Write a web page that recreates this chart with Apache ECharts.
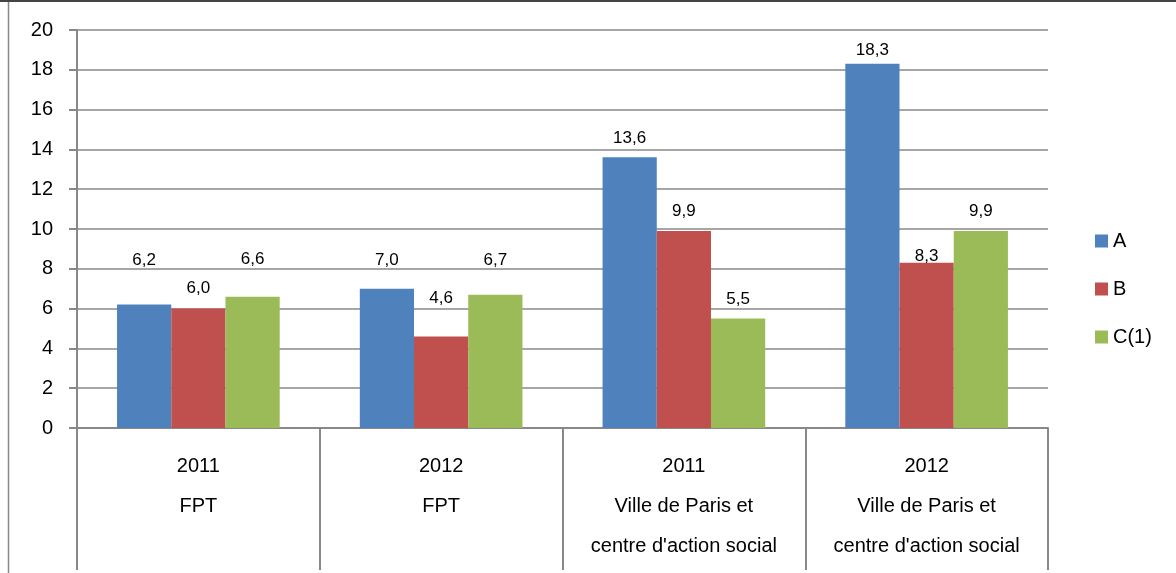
<!DOCTYPE html>
<html>
<head>
<meta charset="utf-8" />
<title>Chart</title>
<script src="https://cdn.jsdelivr.net/npm/echarts@6/dist/echarts.min.js"></script>
<style>
  html, body { margin: 0; padding: 0; background: #fff; }
  #main { width: 1176px; height: 573px; }
</style>
</head>
<body>
<div id="main"></div>
<script>
// categories (year + organisation)
var years = ['2011', '2012', '2011', '2012'];
var orgs = ['FPT', 'FPT', 'Ville de Paris et\ncentre d\'action social', 'Ville de Paris et\ncentre d\'action social'];
var seriesNames = ['A', 'B', 'C(1)'];
var valuesA = [6.2, 7.0, 13.6, 18.3];
var valuesB = [6.0, 4.6, 9.9, 8.3];
var valuesC = [6.6, 6.7, 5.5, 9.9];
var colors = ['#4F81BD', '#C0504D', '#9BBB59'];
// label offset above each bar (px), labels were moved by hand in the original
var liftA = [36, 20, 11, 5];
var liftB = [12, 30, 11, -2];
var liftC = [29, 26, 11, 11];

var categories = years.map(function (y, i) { return y + '\n' + orgs[i]; });

var myChart = echarts.init(document.getElementById('main'));

function bar(name, values, lift, color) {
    return {
        name: name,
        type: 'bar',
        data: values.map(function (v, i) {
            return { value: v, label: { distance: lift[i] } };
        }),
        barGap: 0,
        barCategoryGap: '33%',
        itemStyle: { color: color },
        label: {
            show: true,
            position: 'top',
            color: '#000',
            fontSize: 17,
            fontFamily: 'Liberation Sans',
            formatter: function (p) { return p.value.toFixed(1).replace('.', ','); }
        }
    };
}

var option = {
    animation: false,
    textStyle: { fontFamily: 'Liberation Sans' },
    grid: { left: 77, right: 128, top: 30, bottom: 145 },
    legend: {
        orient: 'vertical',
        left: 1090,
        top: 226,
        itemWidth: 13,
        itemHeight: 13,
        itemGap: 28,
        icon: 'rect',
        textStyle: { fontSize: 20, color: '#000' },
        data: seriesNames
    },
    xAxis: {
        type: 'category',
        data: categories,
        axisLine: { lineStyle: { color: '#888', width: 2 } },
        axisTick: { show: true, length: 142, lineStyle: { color: '#888', width: 2 } },
        axisLabel: {
            color: '#000',
            fontSize: 20,
            lineHeight: 40,
            margin: 18
        }
    },
    yAxis: {
        type: 'value',
        min: 0,
        max: 20,
        interval: 2,
        axisLine: { show: true, lineStyle: { color: '#888', width: 2 } },
        axisTick: { show: true, length: 8, lineStyle: { color: '#888', width: 2 } },
        splitLine: { lineStyle: { color: '#888', width: 1.5 } },
        axisLabel: { color: '#000', fontSize: 20, margin: 24 }
    },
    graphic: [
        { type: 'line', shape: { x1: 8.5, y1: 0, x2: 8.5, y2: 573 }, style: { stroke: '#888', lineWidth: 1.5 } },
        { type: 'line', shape: { x1: 0, y1: 1, x2: 1176, y2: 1 }, style: { stroke: '#444', lineWidth: 2 } }
    ],
    series: [
        bar(seriesNames[0], valuesA, liftA, colors[0]),
        bar(seriesNames[1], valuesB, liftB, colors[1]),
        bar(seriesNames[2], valuesC, liftC, colors[2])
    ]
};

myChart.setOption(option);
</script>
</body>
</html>
